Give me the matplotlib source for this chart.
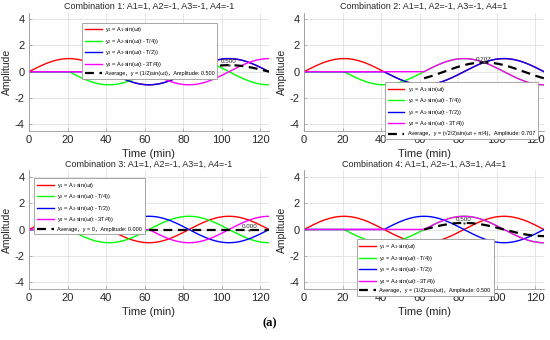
import numpy as np
import matplotlib
matplotlib.use("Agg")
import matplotlib.pyplot as plt

plt.rcParams['font.family'] = ['Liberation Sans', 'DejaVu Sans', 'Noto Sans CJK SC']
plt.rcParams['mathtext.fontset'] = 'custom'
plt.rcParams['mathtext.rm'] = 'Liberation Sans'
plt.rcParams['mathtext.it'] = 'Liberation Sans'
plt.rcParams['axes.unicode_minus'] = False

# ---- data ----
period = 83.0                      # minutes
delays = [0.0, 0.25, 0.5, 0.75]    # fraction of period
amplitudes = [
    [1, -1, -1, -1],
    [1, -1, -1, 1],
    [1, -1, 1, -1],
    [1, -1, 1, 1],
]
titles = [
    "Combination 1: A1=1, A2=-1, A3=-1, A4=-1",
    "Combination 2: A1=1, A2=-1, A3=-1, A4=1",
    "Combination 3: A1=1, A2=-1, A3=1, A4=-1",
    "Combination 4: A1=1, A2=-1, A3=1, A4=1",
]
avg_labels = [
    "Average，y = (1/2)sin(ωt)，Amplitude: 0.500",
    "Average，y = (√2/2)sin(ωt + π/4)，Amplitude: 0.707",
    "Average，y = 0，Amplitude: 0.000",
    "Average，y = (1/2)cos(ωt)，Amplitude: 0.500",
]
peak_times = [103.75, 93.4, 114.3, 83.0]
peak_values = [0.500, 0.707, 0.000, 0.500]
series_labels = [
    r"y$_1$ = A$_1$·sin(ωt)",
    r"y$_2$ = A$_2$·sin(ω(t - T/4))",
    r"y$_3$ = A$_3$·sin(ω(t - T/2))",
    r"y$_4$ = A$_4$·sin(ω(t - 3T/4))",
]
colors = ['#ff0000', '#00ff00', '#0000ff', '#ff00ff']
xticks = [0, 20, 40, 60, 80, 100, 120]
yticks = [-4, -2, 0, 2, 4]

# legend placement (axes fraction: x0, y0, w, h)
legend_boxes = [
    (0.21, 0.54, 0.575, 0.40),
    (0.325, 0.042, 0.667, 0.396),
    (0.011, 0.56, 0.472, 0.398),
    (0.208, 0.06, 0.58, 0.38),
]

fig = plt.figure(figsize=(5.5, 3.4), dpi=100)
axes_pos = [
    (29/550, 1-130.7/340, 240/550, 118/340),
    (304/550, 1-130.7/340, 240/550, 118/340),
    (29/550, 1-289/340, 240/550, 119/340),
    (304/550, 1-289/340, 240/550, 119/340),
]

omega = 2*np.pi/period
t = np.linspace(0, 1.5*period, 1200)
gray = '#262626'

for k in range(4):
    ax = fig.add_axes(axes_pos[k])
    ys = []
    for i in range(4):
        d = delays[i]*period
        y = np.where(t >= d, amplitudes[k][i]*np.sin(omega*(t - d)), 0.0)
        ys.append(y)
        ax.plot(t, y, color=colors[i], lw=1.0, label=series_labels[i])
    avg = np.mean(ys, axis=0)
    m = t >= delays[-1]*period
    ax.plot(t[m], avg[m], color='k', lw=1.6, ls=(0, (4, 2.5)), label=avg_labels[k])
    ax.plot([peak_times[k]], [peak_values[k]], marker='.', color='#555555', ms=1.5)
    ax.text(peak_times[k], peak_values[k]+0.25, f"{peak_values[k]:.3f}",
            ha='center', va='center', fontsize=4.5, color=gray)
    ax.set_xlim(0, 1.5*period)
    ax.set_ylim(-4.5, 4.5)
    ax.set_xticks(xticks)
    ax.set_yticks(yticks)
    ax.grid(True, color='#e0e0e0', lw=0.6)
    ax.set_axisbelow(True)
    for s in ['top', 'right']:
        ax.spines[s].set_visible(False)
    for s in ['left', 'bottom']:
        ax.spines[s].set_color('#999999')
        ax.spines[s].set_linewidth(0.6)
    ax.tick_params(labelsize=8, colors=gray, length=2, width=0.5, direction='in', pad=3)
    ax.tick_params(axis='both', color='#999999')
    ax.set_title(titles[k], fontsize=6.5, pad=2.5, color=gray)
    ax.set_xlabel("Time (min)", fontsize=8, color=gray, labelpad=3)
    ax.set_ylabel("Amplitude", fontsize=7.5, color=gray, labelpad=2)
    leg = ax.legend(loc='upper left', fontsize=4, handlelength=3.0, handletextpad=0.6,
                    labelspacing=0.45, borderpad=0.5, fancybox=False,
                    framealpha=1, edgecolor='#999999')
    leg.set_bbox_to_anchor((legend_boxes[k][0], legend_boxes[k][1]+legend_boxes[k][3]), transform=ax.transAxes)
    leg.get_frame().set_linewidth(0.6)

fig.text(0.49, 0.05, "(a)", ha='center', va='center', fontsize=9,
         fontweight='bold', family='Liberation Serif')

fig.savefig("out.png", dpi=100)
